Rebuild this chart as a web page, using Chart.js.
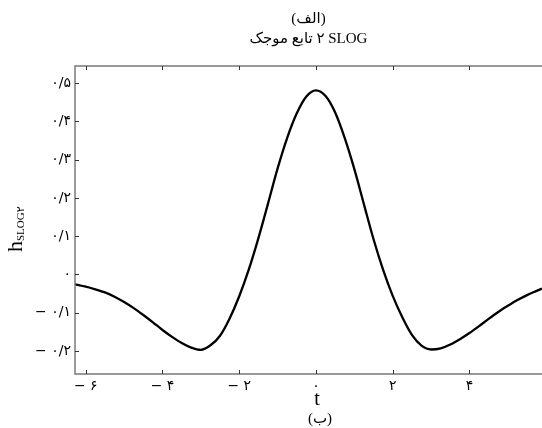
<!DOCTYPE html>
<html>
<head>
<meta charset="utf-8">
<script src="https://cdn.jsdelivr.net/npm/chart.js@4/dist/chart.umd.min.js"></script>
<style>
  html, body { margin: 0; padding: 0; background: #fff; overflow: hidden; }
</style>
</head>
<body>
<canvas id="chart" width="542" height="428"></canvas>
<script>
// Werte
const tValues = [
  -6.28, -6.0, -5.75, -5.5, -5.25, -5.0, -4.75, -4.5, -4.25, -4.0, -3.75, -3.5, -3.25,
  -3.0, -2.75, -2.5, -2.25, -2.0, -1.75, -1.5, -1.25, -1.0, -0.75, -0.5, -0.25,
  0, 0.25, 0.5, 0.75, 1.0, 1.25, 1.5, 1.75, 2.0, 2.25, 2.5, 2.75,
  3.0, 3.25, 3.5, 3.75, 4.0, 4.25, 4.5, 4.75, 5.0, 5.25, 5.5, 5.75, 5.89
];
const hValues = [
  -0.026, -0.032, -0.039, -0.047, -0.058, -0.072, -0.088, -0.106, -0.125, -0.145, -0.163, -0.179, -0.191,
  -0.197, -0.185, -0.160, -0.115, -0.057, 0.013, 0.095, 0.185, 0.277, 0.357, 0.421, 0.465,
  0.481, 0.466, 0.423, 0.356, 0.275, 0.183, 0.092, 0.012, -0.056, -0.112, -0.158, -0.186,
  -0.196, -0.193, -0.183, -0.169, -0.153, -0.135, -0.116, -0.098, -0.082, -0.067, -0.054, -0.043, -0.037
];
const xTicks = [-6, -4, -2, 0, 2, 4];
const yTicks = [-0.2, -0.1, 0, 0.1, 0.2, 0.3, 0.4, 0.5];
// LRM vor der Ziffer, damit ۲ zwischen dem persischen Text und SLOG steht
const titleLines = ['(الف)', 'تابع موجک \u200E۲ SLOG'];
const xTitleLines = ['t', '(ب)'];

const axisColor = '#7a7a7a';
const serif = "'Liberation Serif', 'DejaVu Sans', serif";
const faFont = "'DejaVu Sans', sans-serif";

// Zahl in persische Ziffern umwandeln
function toPersian(v, decimals) {
  const digits = '۰۱۲۳۴۵۶۷۸۹';
  let s = Math.abs(v).toFixed(decimals).replace('.', '/');
  if (/^0\/0+$/.test(s)) s = '0';
  s = s.replace(/\d/g, d => digits[d]);
  return (v < -1e-9 ? '− ' : '') + s;
}

// Rahmen mit nach innen zeigenden Ticks, dazu Achsentitel
const framePlugin = {
  id: 'frame',
  afterDraw(chart) {
    const { ctx, chartArea: a, scales: { x, y } } = chart;
    ctx.save();
    ctx.strokeStyle = axisColor;
    ctx.lineWidth = 1.5;
    ctx.beginPath();
    ctx.moveTo(a.right, a.top);
    ctx.lineTo(a.left, a.top);
    ctx.lineTo(a.left, a.bottom);
    ctx.lineTo(a.right, a.bottom);
    ctx.stroke();

    ctx.strokeStyle = '#333';
    ctx.lineWidth = 1;
    ctx.beginPath();
    x.ticks.forEach(t => {
      const px = Math.round(x.getPixelForValue(t.value)) + 0.5;
      ctx.moveTo(px, a.bottom); ctx.lineTo(px, a.bottom - 4);
      ctx.moveTo(px, a.top); ctx.lineTo(px, a.top + 4);
    });
    y.ticks.forEach(t => {
      const py = Math.round(y.getPixelForValue(t.value)) + 0.5;
      ctx.moveTo(a.left, py); ctx.lineTo(a.left + 4, py);
    });
    ctx.stroke();

    // x-Titel unter der Achse
    ctx.fillStyle = '#000';
    ctx.textAlign = 'center';
    ctx.textBaseline = 'middle';
    const cx = x.getPixelForValue(0);
    ctx.font = '20px ' + serif;
    ctx.fillText(xTitleLines[0], cx + 1, 400);
    ctx.font = '15px ' + serif;
    ctx.fillText(xTitleLines[1], cx + 4, 419);

    // y-Titel, gedreht, mit Index
    ctx.translate(16, 238);
    ctx.rotate(-Math.PI / 2);
    ctx.textAlign = 'left';
    ctx.font = '22px ' + serif;
    ctx.fillText('h', -14, 0);
    const hw = ctx.measureText('h').width;
    ctx.font = '11px ' + serif;
    ctx.fillText('SLOG۲', -14 + hw, 5);
    ctx.restore();
  }
};

new Chart(document.getElementById('chart'), {
  type: 'line',
  data: {
    datasets: [{
      data: tValues.map((t, i) => ({ x: t, y: hValues[i] })),
      borderColor: '#000',
      borderWidth: 2.3,
      pointRadius: 0,
      fill: false,
      cubicInterpolationMode: 'monotone'
    }]
  },
  options: {
    responsive: false,
    animation: false,
    devicePixelRatio: 1,
    layout: { padding: { left: 0, right: 0, top: 0, bottom: 0 } },
    plugins: {
      legend: { display: false },
      tooltip: { enabled: false },
      title: {
        display: true,
        fullSize: false,
        text: titleLines,
        color: '#000',
        font: { family: serif, size: 15, weight: 'normal', lineHeight: 1.35 },
        padding: { top: 9, bottom: 16.5 }
      }
    },
    scales: {
      x: {
        type: 'linear',
        min: -6.28,
        max: 5.89,
        grid: { display: false, drawTicks: false },
        border: { display: false },
        afterBuildTicks: s => { s.ticks = xTicks.map(v => ({ value: v })); },
        afterFit: s => { s.height = 54; },
        ticks: {
          padding: 4,
          color: '#000',
          font: { family: faFont, size: 14 },
          callback: v => toPersian(v, 0)
        }
      },
      y: {
        type: 'linear',
        min: -0.26,
        max: 0.5444,
        grid: { display: false, drawTicks: false },
        border: { display: false },
        afterBuildTicks: s => { s.ticks = yTicks.map(v => ({ value: v })); },
        afterFit: s => { s.width = 75; },
        ticks: {
          padding: 4,
          color: '#000',
          font: { family: faFont, size: 14 },
          callback: v => toPersian(v, 1)
        }
      }
    }
  },
  plugins: [framePlugin]
});
</script>
</body>
</html>
